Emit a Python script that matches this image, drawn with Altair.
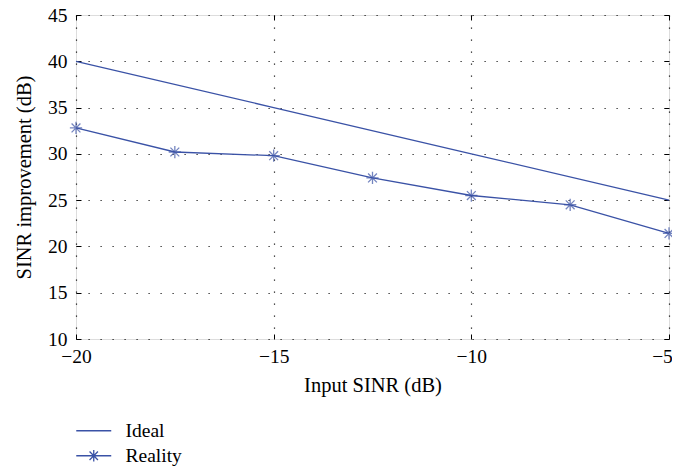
import altair as alt
import pandas as pd

ideal_x = [-20, -15, -10, -5]
ideal_y = [40, 35, 30, 25]
real_x = [-20, -17.5, -15, -12.5, -10, -7.5, -5]
real_y = [32.8, 30.2, 29.8, 27.4, 25.5, 24.5, 21.4]
series = ["Ideal", "Reality"]
x_ticks = [-20, -15, -10, -5]
y_ticks = [10, 15, 20, 25, 30, 35, 40, 45]

df = pd.DataFrame(
    [{"series": "Ideal", "x": a, "y": b} for a, b in zip(ideal_x, ideal_y)]
    + [{"series": "Reality", "x": a, "y": b} for a, b in zip(real_x, real_y)]
)

BLUE = "#3a52a6"
FONT = "Liberation Serif"
FS = 19.5
TFS = 20.5
STAR = "M0,-1V1M-1,0H1M-0.72,-0.72L0.72,0.72M-0.72,0.72L0.72,-0.72"
LEG_IDEAL = "M-3,0H3"
LEG_REAL = "M-3,0H3" + STAR

xs = alt.Scale(domain=[-20, -5], nice=False, zero=False)
ys = alt.Scale(domain=[10, 45], nice=False, zero=False)

grid_axis = dict(
    grid=True, gridColor="#000000", gridDash=[1.2, 10.8], gridOpacity=0.9, gridWidth=1.2,
    domain=False, ticks=True, tickSize=5, tickColor="#000", tickWidth=1, offset=-5,
    labelFont=FONT, labelFontSize=FS, labelColor="#000", titleFont=FONT,
    titleFontSize=TFS, titleFontWeight="normal", titleColor="#000", labelFlush=False,
)

base = alt.Chart(df)

lines = base.mark_line(color=BLUE, strokeWidth=1.3).encode(
    x=alt.X("x:Q", scale=xs, axis=alt.Axis(values=x_ticks, title="Input SINR (dB)",
                                           labelPadding=8, titlePadding=10,
                                           labelOffset=alt.expr("datum.value == -5 ? -7 : 0"),
                                           **grid_axis)),
    y=alt.Y("y:Q", scale=ys, axis=alt.Axis(values=y_ticks, title="SINR improvement (dB)",
                                           labelPadding=9, titlePadding=13, **grid_axis)),
    detail="series:N",
)

stars = base.transform_filter(alt.datum.series == "Reality").mark_point(
    shape=STAR, size=150, color=BLUE, strokeWidth=1.3, filled=False
).encode(x=alt.X("x:Q", scale=xs, axis=None), y=alt.Y("y:Q", scale=ys, axis=None))

legend_layer = base.mark_point(opacity=0, size=136).encode(
    x=alt.X("x:Q", scale=xs, axis=None),
    y=alt.Y("y:Q", scale=ys, axis=None),
    shape=alt.Shape(
        "series:N",
        scale=alt.Scale(domain=series, range=[LEG_IDEAL, LEG_REAL]),
        legend=alt.Legend(
            title=None, orient="none", legendX=8, legendY=406, direction="vertical",
            symbolStrokeColor=BLUE, symbolStrokeWidth=1.3, symbolFillColor="transparent",
            symbolOpacity=1, labelFont=FONT, labelFontSize=FS, labelColor="#000",
            labelOffset=22, rowPadding=4, symbolSize=136,
        ),
    ),
)

mirror_axis = dict(grid=False, domain=False, labels=False, ticks=True, tickSize=5,
                   tickColor="#000", offset=-5, title="")
mirror = base.mark_point(opacity=0).encode(
    x=alt.X("x:Q", scale=xs, axis=alt.Axis(orient="top", values=x_ticks, **mirror_axis)),
    y=alt.Y("y:Q", scale=ys, axis=alt.Axis(orient="right", values=y_ticks, **mirror_axis)),
)

chart = alt.layer(lines, stars, legend_layer, mirror).resolve_axis(
    x="independent", y="independent"
).properties(
    width=593, height=324,
    autosize=alt.AutoSizeParams(type="none"),
    padding={"left": 68, "top": 7, "right": 3, "bottom": 127},
).configure_view(stroke="#000", strokeWidth=1.2).configure(background="white")

chart.save("out.html", embed_options={"renderer": "svg", "actions": False})
